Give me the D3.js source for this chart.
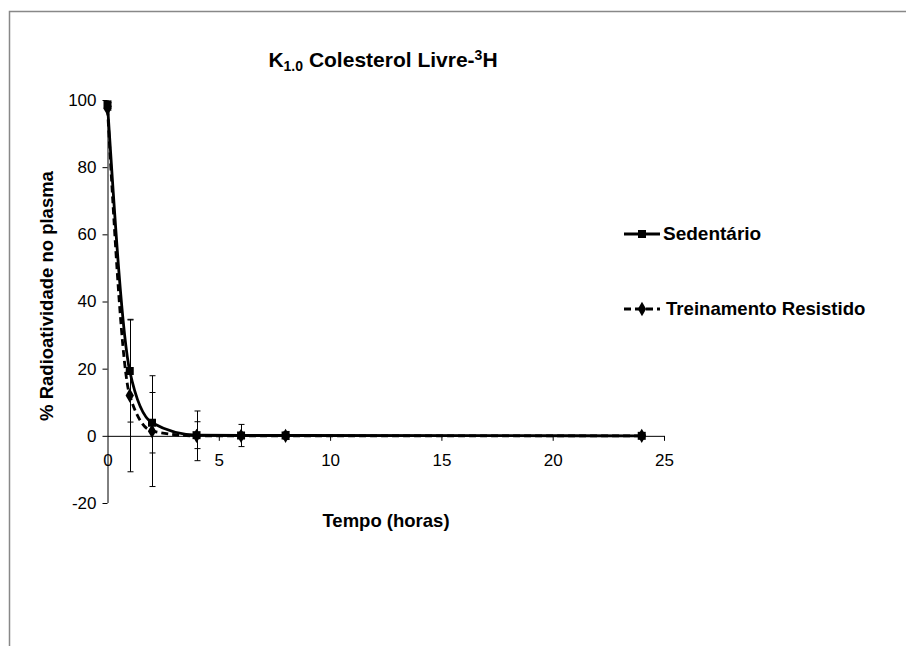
<!DOCTYPE html>
<html><head><meta charset="utf-8">
<script src="https://cdn.jsdelivr.net/npm/d3@7"></script>
<style>body{margin:0;background:#fff;}svg{display:block;font-family:"Liberation Sans",Arial,sans-serif;}</style>
</head><body><div id="chart"></div>
<script>
const times = [0, 1, 2, 4, 6, 8, 24];
const sedentario = [98.7, 19.3, 3.9, 0.2, 0.1, 0.1, 0.0];
const sedentarioErr = [0.5, 15.2, 9.0, 4.0, 3.3, 1.2, 0.3];
const treinamento = [97.5, 12.0, 1.4, 0.0, 0.0, 0.0, 0.0];
const treinamentoErr = [0.5, 22.7, 16.5, 7.4, 0.8, 0.5, 0.2];
const xTicks = [0, 5, 10, 15, 20, 25];
const yTicks = [-20, 0, 20, 40, 60, 80, 100];
const seriesNames = ["Sedentário", "Treinamento Resistido"];

const W = 906, H = 646;
const svg = d3.select("#chart").append("svg").attr("width", W).attr("height", H);

// frame
svg.append("path").attr("d", "M9.5,646 V11.5 H906").attr("fill", "none").attr("stroke", "#888").attr("stroke-width", 1.5);

const x = d3.scaleLinear().domain([0, 25]).range([107.5, 664]);
const y = d3.scaleLinear().domain([-20, 100]).range([503, 100]);

// title
const title = svg.append("text").attr("x", 383).attr("y", 67).attr("text-anchor", "middle")
  .attr("font-weight", "bold").attr("font-size", 21);
title.append("tspan").text("K");
title.append("tspan").attr("font-size", 14).attr("dy", 4).text("1.0");
title.append("tspan").attr("dy", -4).text(" Colesterol Livre-");
title.append("tspan").attr("font-size", 14).attr("dy", -7).text("3");
title.append("tspan").attr("dy", 7).text("H");

// axes
const fmt = d => String(d);
const xAxis = d3.axisBottom(x).tickValues(xTicks).tickSize(5).tickFormat(fmt);
const gx = svg.append("g").attr("transform", `translate(0,${y(0)})`).call(xAxis);
gx.attr("font-size", 17).attr("font-family", "Liberation Sans, Arial");
gx.select(".domain").attr("d", `M${x(0)},0.5H${x(25)}`);
gx.selectAll("text").attr("dy", 0).attr("y", 30);
gx.selectAll(".tick").filter(d => d === 0).select("line").remove();

const yAxis = d3.axisLeft(y).tickValues(yTicks).tickSize(5).tickPadding(6).tickFormat(fmt);
const gy = svg.append("g").attr("transform", `translate(${x(0)},0)`).call(yAxis);
gy.attr("font-size", 17).attr("font-family", "Liberation Sans, Arial");
gy.select(".domain").attr("d", `M0.5,${y(-20)}V${y(100)}`);

// axis titles
svg.append("text").attr("x", 386).attr("y", 527).attr("text-anchor", "middle")
  .attr("font-weight", "bold").attr("font-size", 18.5).text("Tempo (horas)");
svg.append("text").attr("transform", "translate(53,296) rotate(-90)").attr("text-anchor", "middle")
  .attr("font-weight", "bold").attr("font-size", 18.5).text("% Radioatividade no plasma");

// error bars
function errBars(vals, errs) {
  const g = svg.append("g").attr("stroke", "#000").attr("stroke-width", 1);
  times.forEach((t, i) => {
    const cx = Math.round(x(t)) + 0.5;
    const top = y(vals[i] + errs[i]), bot = y(vals[i] - errs[i]);
    g.append("line").attr("x1", cx).attr("x2", cx).attr("y1", top).attr("y2", bot);
    g.append("line").attr("x1", cx - 3).attr("x2", cx + 3).attr("y1", top).attr("y2", top);
    g.append("line").attr("x1", cx - 3).attr("x2", cx + 3).attr("y1", bot).attr("y2", bot);
  });
}
errBars(sedentario, sedentarioErr);
errBars(treinamento, treinamentoErr);

const line = d3.line().x((d, i) => x(times[i])).y(d => y(d)).curve(d3.curveMonotoneX);
svg.append("path").attr("d", line(treinamento)).attr("fill", "none").attr("stroke", "#000")
  .attr("stroke-width", 2.8).attr("stroke-dasharray", "7,4");
svg.append("path").attr("d", line(sedentario)).attr("fill", "none").attr("stroke", "#000")
  .attr("stroke-width", 2.8);

const sq = d3.symbol().type(d3.symbolSquare).size(64);
const di = d3.symbol().type(d3.symbolDiamond).size(60);
svg.append("g").selectAll("path").data(treinamento).join("path")
  .attr("transform", (d, i) => `translate(${x(times[i])},${y(d)})`).attr("d", di).attr("fill", "#000");
svg.append("g").selectAll("path").data(sedentario).join("path")
  .attr("transform", (d, i) => `translate(${x(times[i])},${y(d)})`).attr("d", sq).attr("fill", "#000");

// legend
const lg = svg.append("g");
lg.append("line").attr("x1", 624).attr("x2", 660).attr("y1", 234).attr("y2", 234).attr("stroke", "#000").attr("stroke-width", 2.8);
lg.append("path").attr("transform", "translate(642,234)").attr("d", sq).attr("fill", "#000");
lg.append("text").attr("x", 663).attr("y", 240).attr("font-weight", "bold").attr("font-size", 19).text(seriesNames[0]);
lg.append("line").attr("x1", 624).attr("x2", 660).attr("y1", 309).attr("y2", 309).attr("stroke", "#000").attr("stroke-width", 2.8).attr("stroke-dasharray", "7,4");
lg.append("path").attr("transform", "translate(642,309)").attr("d", di).attr("fill", "#000");
lg.append("text").attr("x", 666).attr("y", 315).attr("font-weight", "bold").attr("font-size", 18.6).text(seriesNames[1]);
</script></body></html>
